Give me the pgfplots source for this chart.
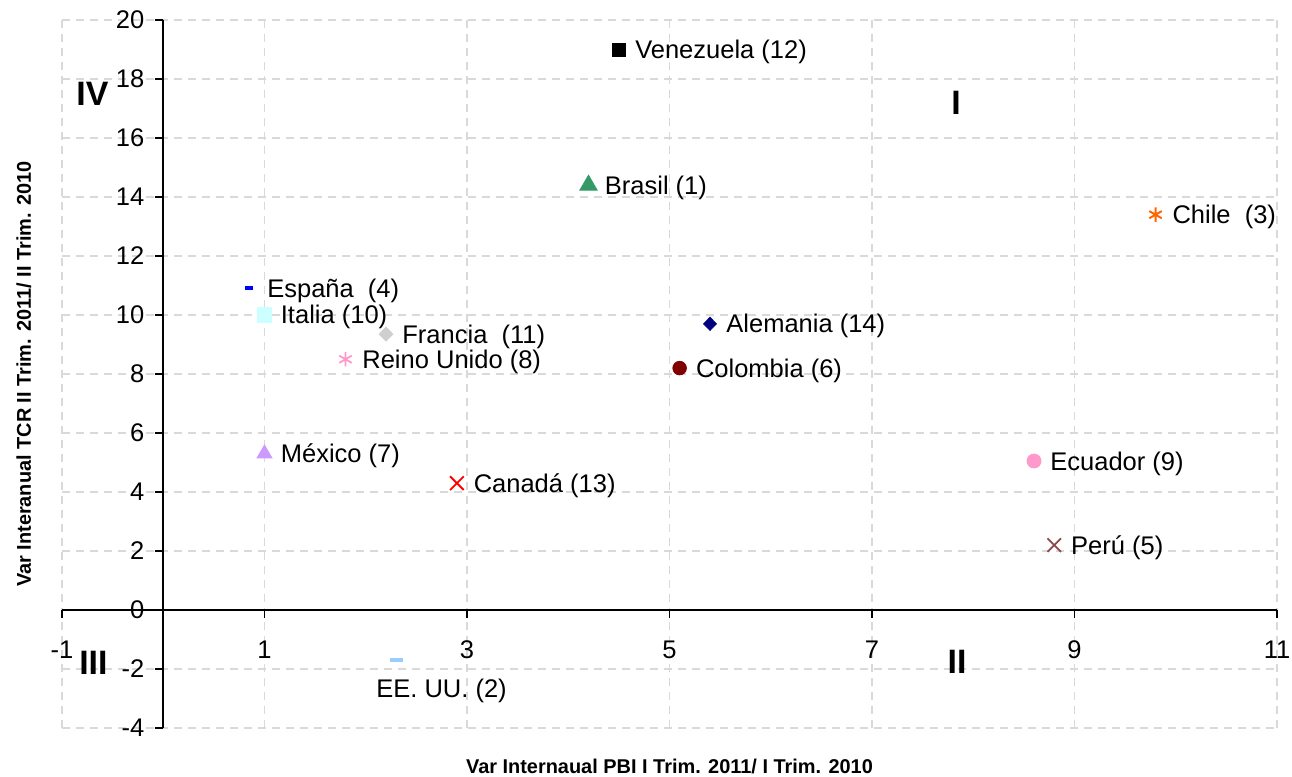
\documentclass[border=0pt]{standalone}
\usepackage{pgfplots}
\pgfplotsset{compat=1.18}
\usepackage{fontspec}
\setmainfont{Liberation Sans}
\usetikzlibrary{calc}

\definecolor{gridgray}{HTML}{D9D9D9}
\definecolor{cBrasil}{HTML}{339966}
\definecolor{cChile}{HTML}{FF6600}
\definecolor{cEspana}{HTML}{0000FF}
\definecolor{cItalia}{HTML}{CCFFFF}
\definecolor{cFrancia}{HTML}{CFCFCF}
\definecolor{cAlemania}{HTML}{000080}
\definecolor{cReino}{HTML}{FF99CC}
\definecolor{cColombia}{HTML}{800000}
\definecolor{cMexico}{HTML}{CC99FF}
\definecolor{cCanada}{HTML}{FF0000}
\definecolor{cEcuador}{HTML}{FF99CC}
\definecolor{cPeru}{HTML}{8B4A4A}
\definecolor{cEEUU}{HTML}{99CCFF}

\begin{document}
\begin{tikzpicture}
\begin{axis}[
  scale only axis, width=607.5bp, height=354bp,
  xmin=-1, xmax=11, ymin=-4, ymax=20,
  xtick={-1,1,...,11}, ytick={-4,-2,...,20},
  axis lines=middle, axis line style={-, line width=0.9bp},
  hide obscured x ticks=false, hide obscured y ticks=false,
  tick align=outside, major tick length=4bp,
  tick style={black, line width=0.8bp},
  grid=major,
  grid style={dash pattern=on 4bp off 3bp, color=gridgray, line width=0.7bp},
  font=\fontsize{12.8}{15}\selectfont,
  /pgf/number format/assume math mode=true,
  xticklabel style={yshift=-8bp},
  yticklabel style={xshift=-2bp},
  xlabel={Var Internaual PBI I Trim. 2011/ I Trim. 2010},
  ylabel={Var Interanual TCR II Trim. 2011/ II Trim. 2010},
  xlabel style={at={(axis description cs:0.5,-0.0537)}, anchor=center,
                font=\bfseries\fontsize{10}{12}\selectfont},
  ylabel style={at={(axis description cs:-0.0313,0.5)}, anchor=center,
                rotate=90, font=\bfseries\fontsize{10}{12}\selectfont},
  only marks,
  nodes near coords, point meta=explicit symbolic,
  nodes near coords align=horizontal,
  every node near coord/.append style={anchor=west, inner sep=0pt,
    xshift=8bp, yshift=-1.2bp, text=black, font=\fontsize{12.8}{15}\selectfont},
  clip=false,
]
\coordinate (bl) at (rel axis cs:0,0);
\coordinate (tr) at (rel axis cs:1,1);

\addplot[mark=square*, black, mark size=3.25bp] coordinates {(4.5,19.0) [Venezuela (12)]};
\addplot[mark=triangle*, cBrasil, mark size=5bp] coordinates {(4.2,14.4) [Brasil (1)]};
\addplot[mark=asterisk, cChile, mark size=3.6bp, mark options={line width=1bp}] coordinates {(9.8,13.4) [Chile~~(3)]};
\addplot[mark=-, cEspana, mark size=2bp, mark options={line width=2bp}] coordinates {(0.85,10.9) [España~~(4)]};
\addplot[mark=square*, cItalia, mark size=3.6bp] coordinates {(1.0,10.0) [Italia (10)]};
\addplot[mark=diamond*, cFrancia, mark size=3.5bp, mark options={xscale=1.3}] coordinates {(2.2,9.35) [Francia~~(11)]};
\addplot[mark=diamond*, cAlemania, mark size=3.3bp, mark options={xscale=1.3}] coordinates {(5.4,9.7) [Alemania (14)]};
\addplot[mark=asterisk, cReino, mark size=3.6bp, mark options={line width=0.9bp}] coordinates {(1.8,8.5) [Reino Unido (8)]};
\addplot[mark=*, cColombia, mark size=3.4bp] coordinates {(5.1,8.2) [Colombia (6)]};
\addplot[mark=triangle*, cMexico, mark size=4.3bp] coordinates {(1.0,5.3) [México (7)]};
\addplot[mark=x, cCanada, mark size=4.8bp, mark options={line width=0.9bp}] coordinates {(2.9,4.3) [Canadá (13)]};
\addplot[mark=*, cEcuador, mark size=3.5bp] coordinates {(8.6,5.05) [Ecuador (9)]};
\addplot[mark=x, cPeru, mark size=4.8bp, mark options={line width=0.9bp}] coordinates {(8.8,2.2) [Perú (5)]};
\addplot[mark=-, cEEUU, mark size=3.3bp, mark options={line width=2.2bp},
  every node near coord/.append style={anchor=north west, xshift=-19bp, yshift=-7bp}]
  coordinates {(2.3,-1.7) [EE. UU. (2)]};

\node[font=\bfseries\fontsize{17}{20}\selectfont] at (axis cs:-0.7,17.5) {IV};
\node[font=\bfseries\fontsize{17}{20}\selectfont] at (axis cs:7.83,17.2) {I};
\node[font=\bfseries\fontsize{17}{20}\selectfont] at (axis cs:-0.69,-1.8) {III};
\node[font=\bfseries\fontsize{17}{20}\selectfont] at (axis cs:7.84,-1.75) {II};
\end{axis}
\pgfresetboundingbox
\path ($(bl)+(-31bp,-24.5bp)$) rectangle ($(tr)+(7.5bp,10bp)$);
\end{tikzpicture}
\end{document}
